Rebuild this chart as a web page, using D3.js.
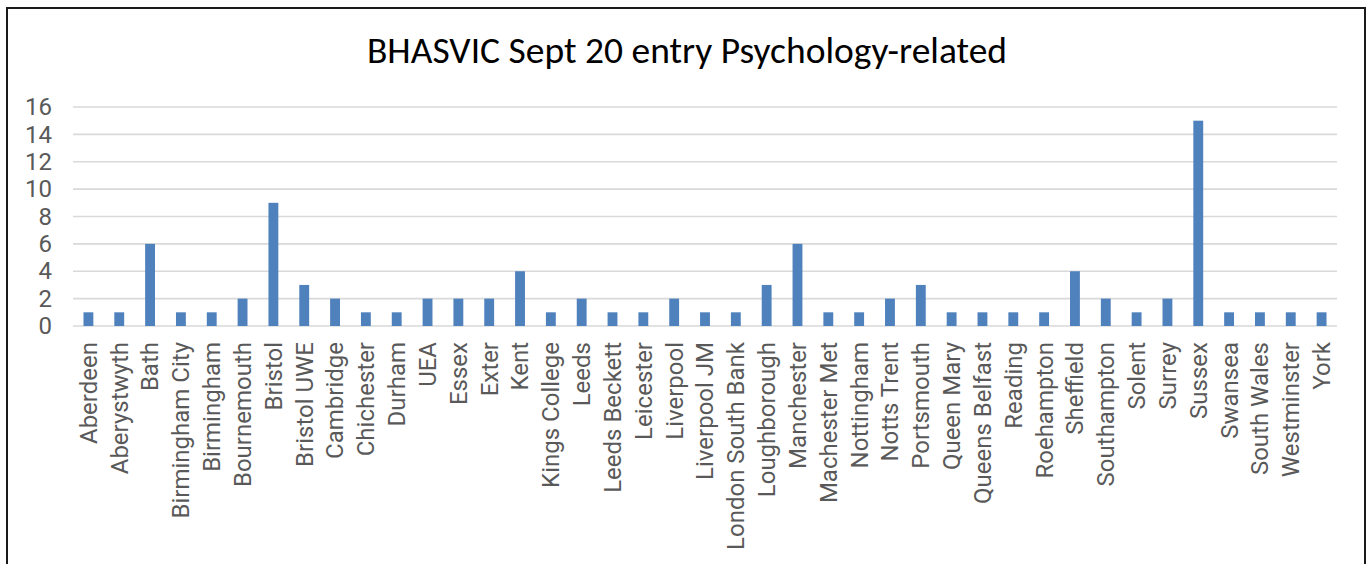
<!DOCTYPE html>
<html>
<head>
<meta charset="utf-8">
<script src="https://cdn.jsdelivr.net/npm/d3@7"></script>
<style>
  html, body { margin: 0; padding: 0; background: #fff; }
  svg { display: block; }
</style>
</head>
<body>
<div id="chart"></div>
<script>
var title = 'BHASVIC Sept 20 entry Psychology-related';

var universities = [
  'Aberdeen', 'Aberystwyth', 'Bath', 'Birmingham City', 'Birmingham', 'Bournemouth',
  'Bristol', 'Bristol UWE', 'Cambridge', 'Chichester', 'Durham', 'UEA', 'Essex', 'Exter',
  'Kent', 'Kings College', 'Leeds', 'Leeds Beckett', 'Leicester', 'Liverpool',
  'Liverpool JM', 'London South Bank', 'Loughborough', 'Manchester', 'Machester Met',
  'Nottingham', 'Notts Trent', 'Portsmouth', 'Queen Mary', 'Queens Belfast', 'Reading',
  'Roehampton', 'Sheffield', 'Southampton', 'Solent', 'Surrey', 'Sussex', 'Swansea',
  'South Wales', 'Westminster', 'York'
];

var students = [
  1, 1, 6, 1, 1, 2,
  9, 3, 2, 1, 1, 2, 2, 2,
  4, 1, 2, 1, 1, 2,
  1, 1, 3, 6, 1,
  1, 2, 3, 1, 1, 1,
  1, 4, 2, 1, 2, 15, 1,
  1, 1, 1
];

var yTicks = [0, 2, 4, 6, 8, 10, 12, 14, 16];

var width = 1370, height = 564;
var margin = {top: 107, right: 33, bottom: 238, left: 73};

var svg = d3.select('#chart').append('svg')
  .attr('width', width)
  .attr('height', height);

// outer frame of the chart object
svg.append('rect')
  .attr('x', 7).attr('y', 8)
  .attr('width', 1358).attr('height', 570)
  .attr('fill', '#fff')
  .attr('stroke', '#1a1a1a')
  .attr('stroke-width', 2);

svg.append('text')
  .attr('x', 687)
  .attr('y', 63)
  .attr('text-anchor', 'middle')
  .style('font-family', 'Carlito, Calibri, "Open Sans", sans-serif')
  .style('font-size', '37.5px')
  .style('fill', '#000')
  .text(title);

var g = svg.append('g')
  .attr('transform', 'translate(' + margin.left + ',' + margin.top + ')');

var plotW = width - margin.left - margin.right,
    plotH = height - margin.top - margin.bottom;

var x = d3.scaleBand()
  .domain(universities)
  .range([0, plotW])
  .paddingInner(0.68)
  .paddingOuter(0.34);

var y = d3.scaleLinear()
  .domain([0, 16])
  .range([plotH, 0]);

// gridlines
g.selectAll('line.grid')
  .data(yTicks)
  .enter().append('line')
  .attr('class', 'grid')
  .attr('x1', 0).attr('x2', plotW)
  .attr('y1', function(d) { return y(d); })
  .attr('y2', function(d) { return y(d); })
  .attr('stroke', '#d9d9d9')
  .attr('stroke-width', 1.6);

// y axis labels
var yAxis = d3.axisLeft(y).tickValues(yTicks).tickSize(0).tickPadding(21);
g.append('g')
  .call(yAxis)
  .call(function(a) { a.select('.domain').remove(); })
  .selectAll('text')
  .style('font-family', 'Roboto, sans-serif')
  .style('font-size', '24px')
  .style('fill', '#595959');

// bars
g.selectAll('rect.bar')
  .data(students)
  .enter().append('rect')
  .attr('class', 'bar')
  .attr('x', function(d, i) { return x(universities[i]); })
  .attr('width', x.bandwidth())
  .attr('y', function(d) { return y(d); })
  .attr('height', function(d) { return plotH - y(d); })
  .attr('fill', '#4f81bd');

// x axis
var xAxis = d3.axisBottom(x).tickSize(0).tickPadding(0);
var xg = g.append('g')
  .attr('transform', 'translate(0,' + plotH + ')')
  .call(xAxis);
xg.select('.domain').remove();
xg.selectAll('text')
  .attr('transform', 'rotate(-90)')
  .attr('x', -16)
  .attr('y', 0)
  .attr('dy', '0.35em')
  .attr('text-anchor', 'end')
  .style('font-family', 'Roboto, sans-serif')
  .style('font-size', '24px')
  .style('fill', '#595959');
</script>
</body>
</html>
